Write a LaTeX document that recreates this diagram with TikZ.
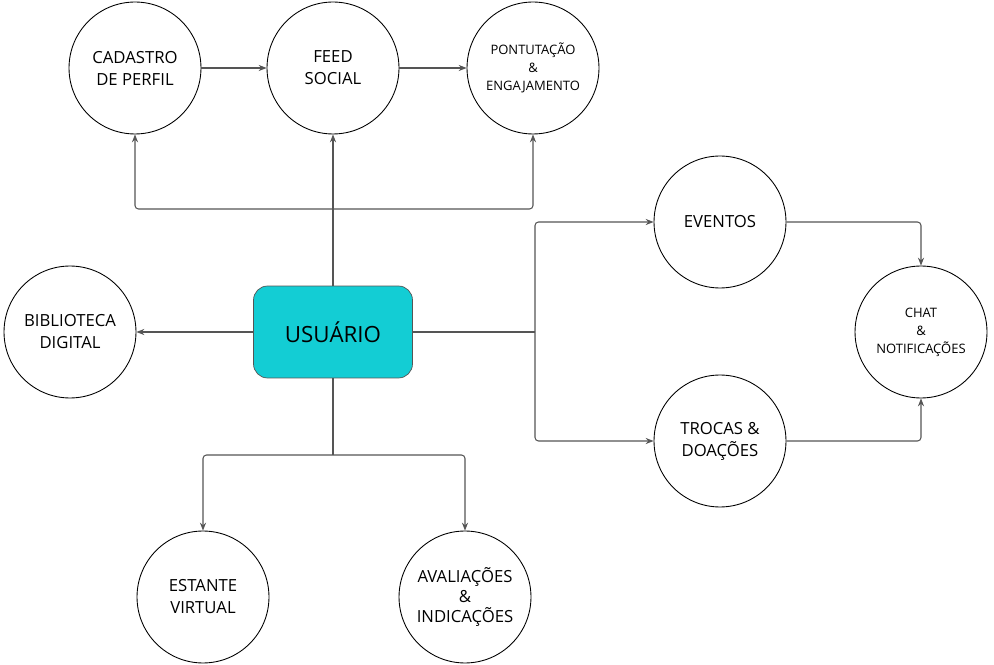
\documentclass[tikz,border=0pt]{standalone}
\usepackage{fontspec}
\setmainfont{Open Sans}
\usetikzlibrary{arrows.meta}
\definecolor{usrcyan}{HTML}{13CDD4}
\definecolor{linegray}{HTML}{555555}

\begin{document}
\begin{tikzpicture}[x=0.02cm, y=-0.02cm,
        modulo/.style={draw=black, line width=0.5pt, circle, minimum size=2.64cm, inner sep=0pt, align=center, font=\fontsize{9.5}{12.5}\selectfont},
        modulop/.style={modulo, font=\fontsize{7.4}{10.2}\selectfont},
        seta/.style={draw=linegray, line width=0.6pt, rounded corners=2pt, -{Stealth[length=4.5pt, width=3.5pt]}},
        linha/.style={draw=linegray, line width=0.6pt}]
        \useasboundingbox (0,0) rectangle (994,665);

        \node[draw=linegray, fill=usrcyan, rounded corners=8pt, minimum width=3.18cm, minimum height=1.84cm, font=\fontsize{12.7}{15}\selectfont] (usr) at (333,332) {USUÁRIO};

        \node[modulo] (cad) at (135,68) {CADASTRO\\DE PERFIL};
        \node[modulo] (feed) at (333,68) {FEED\\SOCIAL};
        \node[modulop] (pont) at (533,68) {PONTUTAÇÃO\\\&\\ENGAJAMENTO};
        \node[modulo] (bib) at (70,332) {BIBLIOTECA\\DIGITAL};
        \node[modulo] (eve) at (720,222) {EVENTOS};
        \node[modulo] (tro) at (720,441) {TROCAS \&\\DOAÇÕES};
        \node[modulop] (chat) at (921,332) {CHAT\\\&\\NOTIFICAÇÕES};
        \node[modulo] (est) at (203,597) {ESTANTE\\VIRTUAL};
        \node[modulo, font=\fontsize{9.5}{11.5}\selectfont] (ava) at (465,597) {AVALIAÇÕES\\\&\\INDICAÇÕES};

        \coordinate (cima) at (333,209);
        \coordinate (dir) at (535,332);
        \coordinate (baixo) at (333,455);

        % linha superior
        \draw[seta] (cad) -- (feed);
        \draw[seta] (feed) -- (pont);
        \draw[seta] (usr.north) -- (feed.south);
        \draw[seta] (cima) -| (cad.south);
        \draw[seta] (cima) -| (pont.south);

        % esquerda
        \draw[seta] (usr) -- (bib);

        % direita
        \draw[linha] (usr.east) -- (dir);
        \draw[seta] (dir) |- (eve);
        \draw[seta] (dir) |- (tro);
        \draw[seta] (eve) -| (chat.north);
        \draw[seta] (tro) -| (chat.south);

        % inferior
        \draw[linha] (usr.south) -- (baixo);
        \draw[seta] (baixo) -| (est.north);
        \draw[seta] (baixo) -| (ava.north);
    \end{tikzpicture}
\end{document}
